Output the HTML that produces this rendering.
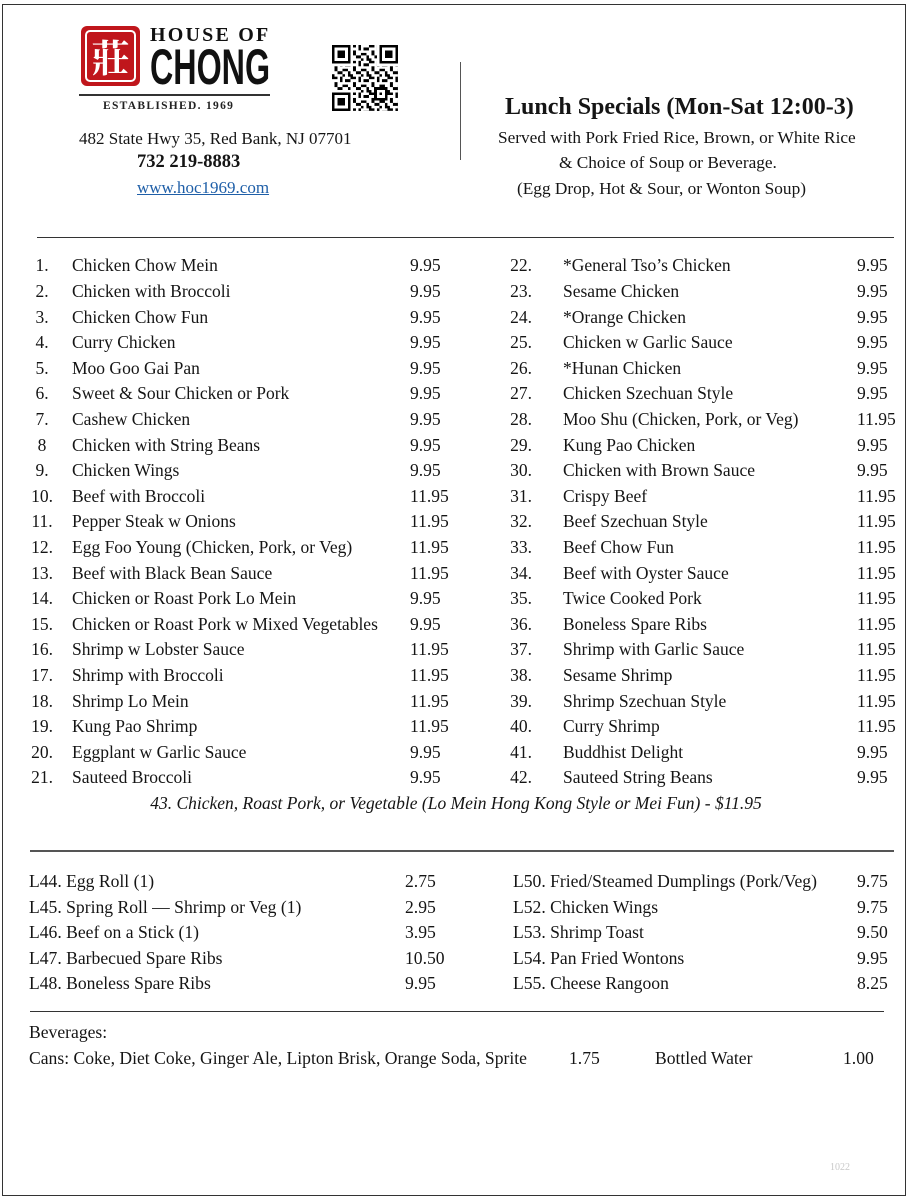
<!DOCTYPE html>
<html>
<head>
<meta charset="utf-8">
<style>
  html, body { margin:0; padding:0; }
  body { width:908px; height:1198px; position:relative; overflow:hidden; background:#fff;
         font-family:"Liberation Serif", "Noto Serif CJK SC", serif; color:#151515; }
  .a { position:absolute; white-space:nowrap; }
  .hl { position:absolute; height:0; }
  .row { position:absolute; height:25.6px; line-height:25.6px; font-size:17.5px; white-space:nowrap; }
  .row span { position:absolute; top:0; }
  .srow { position:absolute; height:25.5px; line-height:25.5px; font-size:17.6px; white-space:nowrap; }
  .srow span { position:absolute; top:0; }
</style>
</head>
<body>
<!-- page border -->
<div class="a" style="left:2px;top:4px;width:902px;height:1190px;border:1px solid #333;"></div>

<!-- Logo -->
<div class="a" style="left:81px;top:26px;width:59px;height:60px;background:#c0161c;border-radius:6px;"></div>
<div class="a" style="left:85px;top:30px;width:47px;height:48px;border:2px solid #fff;border-radius:5px;"></div>
<div class="a" style="left:81px;top:26px;width:59px;height:60px;line-height:60px;text-align:center;color:#fff;font-size:38px;font-weight:bold;font-family:'Noto Serif CJK SC','Noto Sans CJK SC',serif;">莊</div>
<div class="a" style="left:150px;top:24px;font-size:20px;line-height:22px;font-weight:bold;letter-spacing:2.2px;color:#111;">HOUSE OF</div>
<div class="a" style="left:150px;top:40px;font-family:'Liberation Sans',sans-serif;font-size:50px;line-height:54px;font-weight:bold;color:#111;transform:scaleX(0.645);transform-origin:0 0;">CHONG</div>
<div class="hl" style="left:79px;top:94px;width:191px;border-top:2px solid #333;"></div>
<div class="a" style="left:103px;top:99px;font-size:11.5px;line-height:14px;font-weight:bold;letter-spacing:1.3px;color:#222;">ESTABLISHED. 1969</div>

<!-- QR code -->
<svg class="a" style="left:332px;top:45px;" width="66" height="66" viewBox="0 0 25 25" shape-rendering="crispEdges">
  <defs>
    <pattern id="qp" width="7" height="6" patternUnits="userSpaceOnUse">
      <rect x="0" y="0" width="2" height="1" fill="#000"/>
      <rect x="3" y="0" width="1" height="2" fill="#000"/>
      <rect x="5" y="1" width="2" height="1" fill="#000"/>
      <rect x="1" y="2" width="1" height="2" fill="#000"/>
      <rect x="4" y="3" width="2" height="1" fill="#000"/>
      <rect x="2" y="4" width="2" height="1" fill="#000"/>
      <rect x="6" y="4" width="1" height="2" fill="#000"/>
      <rect x="0" y="5" width="1" height="1" fill="#000"/>
      <rect x="4" y="5" width="1" height="1" fill="#000"/>
    </pattern>
  </defs>
  <rect x="0" y="0" width="25" height="25" fill="url(#qp)"/>
  <rect x="0" y="0" width="8" height="8" fill="#fff"/>
  <rect x="17" y="0" width="8" height="8" fill="#fff"/>
  <rect x="0" y="17" width="8" height="8" fill="#fff"/>
  <g fill="#000">
    <rect x="0" y="0" width="7" height="7"/><rect x="18" y="0" width="7" height="7"/><rect x="0" y="18" width="7" height="7"/>
  </g>
  <g fill="#fff">
    <rect x="1" y="1" width="5" height="5"/><rect x="19" y="1" width="5" height="5"/><rect x="1" y="19" width="5" height="5"/>
  </g>
  <g fill="#000">
    <rect x="2" y="2" width="3" height="3"/><rect x="20" y="2" width="3" height="3"/><rect x="2" y="20" width="3" height="3"/>
    <rect x="16" y="16" width="5" height="5"/>
  </g>
  <rect x="17" y="17" width="3" height="3" fill="#fff"/>
  <rect x="18" y="18" width="1" height="1" fill="#000"/>
</svg>

<!-- Address block -->
<div class="a" style="left:79px;top:129px;font-size:17px;line-height:20px;">482 State Hwy 35, Red Bank, NJ 07701</div>
<div class="a" style="left:137px;top:152px;font-size:18.5px;line-height:20px;font-weight:bold;">732 219-8883</div>
<div class="a" style="left:137px;top:178px;font-size:17px;line-height:20px;color:#1f5fa8;text-decoration:underline;">www.hoc1969.com</div>

<!-- vertical separator -->
<div class="a" style="left:460px;top:62px;width:0;height:98px;border-left:1px solid #555;"></div>

<!-- Right header -->
<div class="a" style="left:505px;top:93px;font-size:24px;line-height:28px;font-weight:bold;">Lunch Specials (Mon-Sat 12:00-3)</div>
<div class="a" style="left:498px;top:128px;font-size:17.3px;line-height:20px;">Served with Pork Fried Rice, Brown, or White Rice</div>
<div class="a" style="left:559px;top:153px;font-size:17.3px;line-height:20px;">&amp; Choice of Soup or Beverage.</div>
<div class="a" style="left:517px;top:179px;font-size:17.3px;line-height:20px;">(Egg Drop, Hot &amp; Sour, or Wonton Soup)</div>

<div class="hl" style="left:37px;top:237px;width:857px;border-top:1px solid #333;"></div>

<!-- Lists -->
<div class="row" style="top:253.3px;left:0;width:908px;"><span style="left:27px;width:30px;text-align:center;">1.</span><span style="left:72px;">Chicken Chow Mein</span><span style="left:410px;">9.95</span><span style="left:506px;width:30px;text-align:center;">22.</span><span style="left:563px;">*General Tso’s Chicken</span><span style="left:857px;">9.95</span></div>
<div class="row" style="top:278.9px;left:0;width:908px;"><span style="left:27px;width:30px;text-align:center;">2.</span><span style="left:72px;">Chicken with Broccoli</span><span style="left:410px;">9.95</span><span style="left:506px;width:30px;text-align:center;">23.</span><span style="left:563px;">Sesame Chicken</span><span style="left:857px;">9.95</span></div>
<div class="row" style="top:304.5px;left:0;width:908px;"><span style="left:27px;width:30px;text-align:center;">3.</span><span style="left:72px;">Chicken Chow Fun</span><span style="left:410px;">9.95</span><span style="left:506px;width:30px;text-align:center;">24.</span><span style="left:563px;">*Orange Chicken</span><span style="left:857px;">9.95</span></div>
<div class="row" style="top:330.1px;left:0;width:908px;"><span style="left:27px;width:30px;text-align:center;">4.</span><span style="left:72px;">Curry Chicken</span><span style="left:410px;">9.95</span><span style="left:506px;width:30px;text-align:center;">25.</span><span style="left:563px;">Chicken w Garlic Sauce</span><span style="left:857px;">9.95</span></div>
<div class="row" style="top:355.7px;left:0;width:908px;"><span style="left:27px;width:30px;text-align:center;">5.</span><span style="left:72px;">Moo Goo Gai Pan</span><span style="left:410px;">9.95</span><span style="left:506px;width:30px;text-align:center;">26.</span><span style="left:563px;">*Hunan Chicken</span><span style="left:857px;">9.95</span></div>
<div class="row" style="top:381.3px;left:0;width:908px;"><span style="left:27px;width:30px;text-align:center;">6.</span><span style="left:72px;">Sweet &amp; Sour Chicken or Pork</span><span style="left:410px;">9.95</span><span style="left:506px;width:30px;text-align:center;">27.</span><span style="left:563px;">Chicken Szechuan Style</span><span style="left:857px;">9.95</span></div>
<div class="row" style="top:406.9px;left:0;width:908px;"><span style="left:27px;width:30px;text-align:center;">7.</span><span style="left:72px;">Cashew Chicken</span><span style="left:410px;">9.95</span><span style="left:506px;width:30px;text-align:center;">28.</span><span style="left:563px;">Moo Shu (Chicken, Pork, or Veg)</span><span style="left:857px;">11.95</span></div>
<div class="row" style="top:432.5px;left:0;width:908px;"><span style="left:27px;width:30px;text-align:center;">8</span><span style="left:72px;">Chicken with String Beans</span><span style="left:410px;">9.95</span><span style="left:506px;width:30px;text-align:center;">29.</span><span style="left:563px;">Kung Pao Chicken</span><span style="left:857px;">9.95</span></div>
<div class="row" style="top:458.1px;left:0;width:908px;"><span style="left:27px;width:30px;text-align:center;">9.</span><span style="left:72px;">Chicken Wings</span><span style="left:410px;">9.95</span><span style="left:506px;width:30px;text-align:center;">30.</span><span style="left:563px;">Chicken with Brown Sauce</span><span style="left:857px;">9.95</span></div>
<div class="row" style="top:483.7px;left:0;width:908px;"><span style="left:27px;width:30px;text-align:center;">10.</span><span style="left:72px;">Beef with Broccoli</span><span style="left:410px;">11.95</span><span style="left:506px;width:30px;text-align:center;">31.</span><span style="left:563px;">Crispy Beef</span><span style="left:857px;">11.95</span></div>
<div class="row" style="top:509.3px;left:0;width:908px;"><span style="left:27px;width:30px;text-align:center;">11.</span><span style="left:72px;">Pepper Steak w Onions</span><span style="left:410px;">11.95</span><span style="left:506px;width:30px;text-align:center;">32.</span><span style="left:563px;">Beef Szechuan Style</span><span style="left:857px;">11.95</span></div>
<div class="row" style="top:534.9px;left:0;width:908px;"><span style="left:27px;width:30px;text-align:center;">12.</span><span style="left:72px;">Egg Foo Young (Chicken, Pork, or Veg)</span><span style="left:410px;">11.95</span><span style="left:506px;width:30px;text-align:center;">33.</span><span style="left:563px;">Beef Chow Fun</span><span style="left:857px;">11.95</span></div>
<div class="row" style="top:560.5px;left:0;width:908px;"><span style="left:27px;width:30px;text-align:center;">13.</span><span style="left:72px;">Beef with Black Bean Sauce</span><span style="left:410px;">11.95</span><span style="left:506px;width:30px;text-align:center;">34.</span><span style="left:563px;">Beef with Oyster Sauce</span><span style="left:857px;">11.95</span></div>
<div class="row" style="top:586.1px;left:0;width:908px;"><span style="left:27px;width:30px;text-align:center;">14.</span><span style="left:72px;">Chicken or Roast Pork Lo Mein</span><span style="left:410px;">9.95</span><span style="left:506px;width:30px;text-align:center;">35.</span><span style="left:563px;">Twice Cooked Pork</span><span style="left:857px;">11.95</span></div>
<div class="row" style="top:611.7px;left:0;width:908px;"><span style="left:27px;width:30px;text-align:center;">15.</span><span style="left:72px;">Chicken or Roast Pork w Mixed Vegetables</span><span style="left:410px;">9.95</span><span style="left:506px;width:30px;text-align:center;">36.</span><span style="left:563px;">Boneless Spare Ribs</span><span style="left:857px;">11.95</span></div>
<div class="row" style="top:637.3px;left:0;width:908px;"><span style="left:27px;width:30px;text-align:center;">16.</span><span style="left:72px;">Shrimp w Lobster Sauce</span><span style="left:410px;">11.95</span><span style="left:506px;width:30px;text-align:center;">37.</span><span style="left:563px;">Shrimp with Garlic Sauce</span><span style="left:857px;">11.95</span></div>
<div class="row" style="top:662.9px;left:0;width:908px;"><span style="left:27px;width:30px;text-align:center;">17.</span><span style="left:72px;">Shrimp with Broccoli</span><span style="left:410px;">11.95</span><span style="left:506px;width:30px;text-align:center;">38.</span><span style="left:563px;">Sesame Shrimp</span><span style="left:857px;">11.95</span></div>
<div class="row" style="top:688.5px;left:0;width:908px;"><span style="left:27px;width:30px;text-align:center;">18.</span><span style="left:72px;">Shrimp Lo Mein</span><span style="left:410px;">11.95</span><span style="left:506px;width:30px;text-align:center;">39.</span><span style="left:563px;">Shrimp Szechuan Style</span><span style="left:857px;">11.95</span></div>
<div class="row" style="top:714.1px;left:0;width:908px;"><span style="left:27px;width:30px;text-align:center;">19.</span><span style="left:72px;">Kung Pao Shrimp</span><span style="left:410px;">11.95</span><span style="left:506px;width:30px;text-align:center;">40.</span><span style="left:563px;">Curry Shrimp</span><span style="left:857px;">11.95</span></div>
<div class="row" style="top:739.7px;left:0;width:908px;"><span style="left:27px;width:30px;text-align:center;">20.</span><span style="left:72px;">Eggplant w Garlic Sauce</span><span style="left:410px;">9.95</span><span style="left:506px;width:30px;text-align:center;">41.</span><span style="left:563px;">Buddhist Delight</span><span style="left:857px;">9.95</span></div>
<div class="row" style="top:765.3px;left:0;width:908px;"><span style="left:27px;width:30px;text-align:center;">21.</span><span style="left:72px;">Sauteed Broccoli</span><span style="left:410px;">9.95</span><span style="left:506px;width:30px;text-align:center;">42.</span><span style="left:563px;">Sauteed String Beans</span><span style="left:857px;">9.95</span></div>

<!-- item 43 -->
<div class="a" style="left:0;width:912px;top:790px;text-align:center;font-size:17.5px;line-height:26px;font-style:italic;">43. Chicken, Roast Pork, or Vegetable (Lo Mein Hong Kong Style or Mei Fun) - $11.95</div>

<div class="hl" style="left:30px;top:850px;width:864px;border-top:2px solid #555;"></div>

<!-- Appetizers -->
<div class="srow" style="top:869.2px;left:0;width:908px;"><span style="left:29px;">L44. Egg Roll (1)</span><span style="left:405px;">2.75</span><span style="left:513px;">L50. Fried/Steamed Dumplings (Pork/Veg)</span><span style="left:857px;">9.75</span></div>
<div class="srow" style="top:894.7px;left:0;width:908px;"><span style="left:29px;">L45. Spring Roll — Shrimp or Veg (1)</span><span style="left:405px;">2.95</span><span style="left:513px;">L52. Chicken Wings</span><span style="left:857px;">9.75</span></div>
<div class="srow" style="top:920.2px;left:0;width:908px;"><span style="left:29px;">L46. Beef on a Stick (1)</span><span style="left:405px;">3.95</span><span style="left:513px;">L53. Shrimp Toast</span><span style="left:857px;">9.50</span></div>
<div class="srow" style="top:945.7px;left:0;width:908px;"><span style="left:29px;">L47. Barbecued Spare Ribs</span><span style="left:405px;">10.50</span><span style="left:513px;">L54. Pan Fried Wontons</span><span style="left:857px;">9.95</span></div>
<div class="srow" style="top:971.2px;left:0;width:908px;"><span style="left:29px;">L48. Boneless Spare Ribs</span><span style="left:405px;">9.95</span><span style="left:513px;">L55. Cheese Rangoon</span><span style="left:857px;">8.25</span></div>

<div class="hl" style="left:30px;top:1011px;width:854px;border-top:1px solid #333;"></div>

<!-- Beverages -->
<div class="srow" style="top:1020px;left:0;width:908px;"><span style="left:29px;">Beverages:</span></div>
<div class="srow" style="top:1046px;left:0;width:908px;"><span style="left:29px;">Cans: Coke, Diet Coke, Ginger Ale, Lipton Brisk, Orange Soda, Sprite</span><span style="left:569px;">1.75</span><span style="left:655px;">Bottled Water</span><span style="left:843px;">1.00</span></div>

<div class="a" style="left:830px;top:1162px;font-size:10px;line-height:12px;color:#c8c8c8;">1022</div>
</body>
</html>
